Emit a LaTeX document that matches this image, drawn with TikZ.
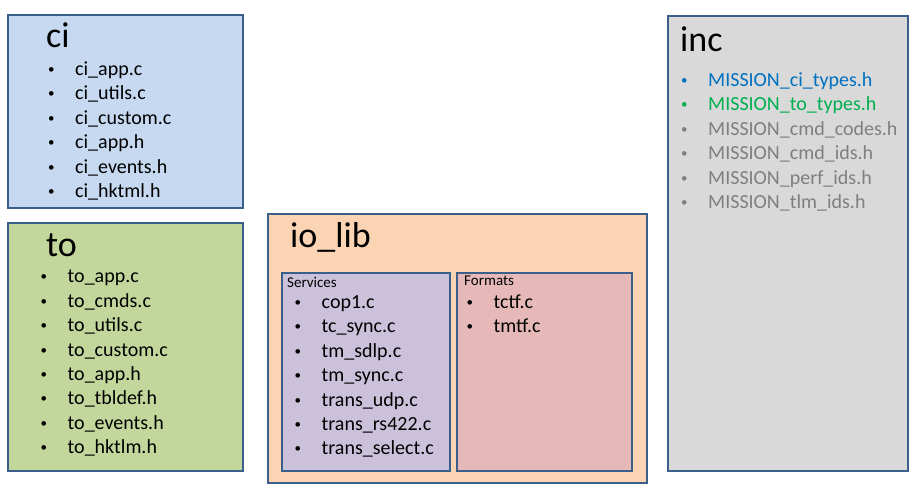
\documentclass[tikz,border=0pt]{standalone}
\usepackage{fontspec}
\setmainfont{Carlito}
\usepackage{xcolor}
\usepackage{tikz}
\usetikzlibrary{positioning}

\definecolor{boxline}{HTML}{3A5F8B}
\definecolor{cifill}{HTML}{C6D9F1}
\definecolor{tofill}{HTML}{C3D69B}
\definecolor{iofill}{HTML}{FBD4B4}
\definecolor{svcfill}{HTML}{CCC1DA}
\definecolor{fmtfill}{HTML}{E6B9B8}
\definecolor{incfill}{HTML}{D9D9D9}
\definecolor{ciblue}{HTML}{0070C0}
\definecolor{togreen}{HTML}{00B050}
\definecolor{incgray}{HTML}{7F7F7F}

\tikzset{
  folder/.style={draw=boxline, line width=2pt, inner sep=0pt, anchor=north west},
  title/.style={font=\fontsize{36}{36}\selectfont, inner sep=0pt, anchor=base west},
  sublabel/.style={font=\fontsize{15}{15}\selectfont, inner sep=0pt, anchor=base west},
  file/.style={font=\fontsize{20}{24}\selectfont, inner sep=0pt, text width=230pt,
    align=left, text height=15pt, text depth=9pt},
}
\newcommand{\bul}{\makebox[28.5pt][l]{\hspace{1.5pt}\raisebox{2pt}{\fontsize{13}{13}\selectfont\textbullet}}}

\begin{document}
\begin{tikzpicture}[x=1pt,y=-1pt]
\useasboundingbox (0,0) rectangle (922,494);
% boxes
\node[folder, fill=cifill, minimum width=235pt, minimum height=193.5pt] (ci) at (7,14) {};
\node[folder, fill=tofill, minimum width=235pt, minimum height=248.5pt] (to) at (7,222) {};
\node[folder, fill=iofill, minimum width=379pt, minimum height=269pt] (iolib) at (267,213) {};
\node[folder, fill=svcfill, minimum width=168pt, minimum height=198pt] (services) at (281,272) {};
\node[folder, fill=fmtfill, minimum width=175pt, minimum height=198pt] (formats) at (456,272) {};
\node[folder, fill=incfill, minimum width=240pt, minimum height=455.5pt] (inc) at (667,15) {};
% titles
\node[title] (citl) at (46,48) {ci};
\node[title] (totl) at (46,257) {to};
\node[title] (iotl) at (290,248) {io\_lib};
\node[title] (inctl) at (680,52) {inc};
\node[sublabel] (svctl) at (287,288) {Services};
\node[sublabel] (fmttl) at (464,286) {Formats};
% ci files
\node[file, anchor=base west] (ci1) at (46.5,75.5) {\bul ci\_app.c};
\node[file, below=0pt of ci1] (ci2) {\bul ci\_utils.c};
\node[file, below=0pt of ci2] (ci3) {\bul ci\_custom.c};
\node[file, below=0pt of ci3] (ci4) {\bul ci\_app.h};
\node[file, below=0pt of ci4] (ci5) {\bul ci\_events.h};
\node[file, below=0pt of ci5] (ci6) {\bul ci\_hktml.h};
% to files
\node[file, anchor=base west] (to1) at (39,283) {\bul to\_app.c};
\node[file, below=0pt of to1] (to2) {\bul to\_cmds.c};
\node[file, below=0pt of to2] (to3) {\bul to\_utils.c};
\node[file, below=0pt of to3] (to4) {\bul to\_custom.c};
\node[file, below=0pt of to4] (to5) {\bul to\_app.h};
\node[file, below=0pt of to5] (to6) {\bul to\_tbldef.h};
\node[file, below=0pt of to6] (to7) {\bul to\_events.h};
\node[file, below=0pt of to7] (to8) {\bul to\_hktlm.h};
% services files
\node[file, anchor=base west] (svc1) at (293,308.5) {\bul cop1.c};
\node[file, below=0pt of svc1] (svc2) {\bul tc\_sync.c};
\node[file, below=0pt of svc2] (svc3) {\bul tm\_sdlp.c};
\node[file, below=0pt of svc3] (svc4) {\bul tm\_sync.c};
\node[file, below=0pt of svc4] (svc5) {\bul trans\_udp.c};
\node[file, below=0pt of svc5] (svc6) {\bul trans\_rs422.c};
\node[file, below=0pt of svc6] (svc7) {\bul trans\_select.c};
% formats files
\node[file, anchor=base west] (fmt1) at (465,308.5) {\bul tctf.c};
\node[file, below=0pt of fmt1] (fmt2) {\bul tmtf.c};
% inc files
\node[file, anchor=base west, text=ciblue] (inc1) at (679.5,86.5) {\bul MISSION\_ci\_types.h};
\node[file, below=0pt of inc1, text=togreen] (inc2) {\bul MISSION\_to\_types.h};
\node[file, below=0pt of inc2, text=incgray] (inc3) {\bul MISSION\_cmd\_codes.h};
\node[file, below=0pt of inc3, text=incgray] (inc4) {\bul MISSION\_cmd\_ids.h};
\node[file, below=0pt of inc4, text=incgray] (inc5) {\bul MISSION\_perf\_ids.h};
\node[file, below=0pt of inc5, text=incgray] (inc6) {\bul MISSION\_tlm\_ids.h};
\end{tikzpicture}
\end{document}
